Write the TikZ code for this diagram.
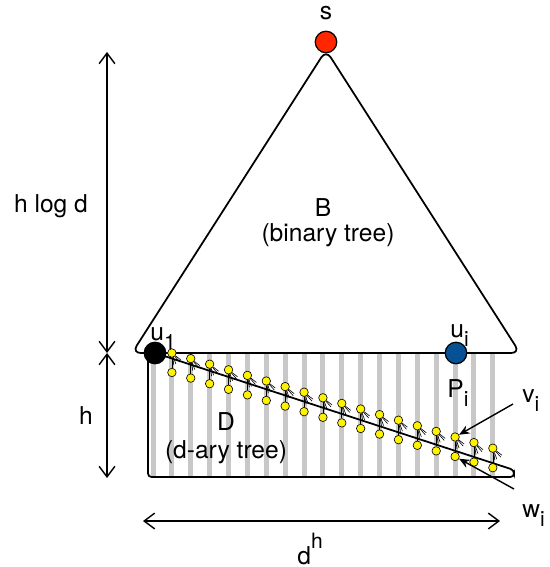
\documentclass[tikz,border=0pt]{standalone}
\usepackage{fontspec}
\setmainfont{TeX Gyre Heros}
\usetikzlibrary{arrows.meta}

\newcommand\lowidx[1]{\raisebox{-5.5pt}{\fontsize{12}{12}\selectfont #1}}
\newcommand\highidx[1]{\raisebox{9pt}{\fontsize{12}{12}\selectfont #1}}
\definecolor{rootred}{RGB}{255,38,0}
\definecolor{pathblue}{RGB}{6,80,148}
\definecolor{stripegray}{RGB}{200,200,200}

\begin{document}
\begin{tikzpicture}[
    x=0.02cm, y=-0.02cm,
    font=\fontsize{14}{16}\selectfont,
    outline/.style={line width=1pt},
    bigdot/.style={draw, circle, line width=0.7pt, minimum size=0.43cm, inner sep=0pt},
    kid/.style={draw, circle, fill=yellow, line width=0.35pt, minimum size=0.17cm, inner sep=0pt},
    fan/.style={line width=0.35pt},
    dim/.style={{Straight Barb[length=6pt,width=9pt]}-{Straight Barb[length=6pt,width=9pt]}, line width=0.8pt},
    pointer/.style={-{Stealth[length=6pt,width=5pt]}, line width=0.8pt},
    txt/.style={inner sep=0pt}
]
\useasboundingbox (0,0) rectangle (550,567);

% stripes of D
\foreach \k in {0,...,18}
  \fill[stripegray] ({153+18.88*\k-2.5},353) rectangle ({153+18.88*\k+2.5},477);

% B (binary tree)
\draw[outline, rounded corners=5pt] (326,50) -- (132,353) -- (520,353) -- cycle;
% D (d-ary tree)
\draw[outline, rounded corners=2pt] (155,353) -- (514,470) -- (514,477) -- (148,477) -- (148,353);

% path P_i: v_i above, w_i below, children fanning out
\foreach \k in {1,...,18} {
  \pgfmathsetmacro\xx{153+18.88*\k}
  \pgfmathsetmacro\yy{353+5.6*(\k-1)}
  \node[kid] (t\k) at (\xx,\yy) {};
  \node[kid] (b\k) at (\xx,\yy+19.5) {};
  \draw[fan] (t\k) -- (b\k);
  \foreach \dx/\dy in {9/7,8/9,4/11,2/12}
    \draw[fan] (t\k) -- ++(\dx,\dy);
}

\node[bigdot, fill=rootred] (s) at (326,42) {};
\node[bigdot, fill=black] (u1) at (155,353) {};
\node[bigdot, fill=pathblue] (ui) at (456,353) {};

% labels
\node[txt, anchor=base] (slbl) at (326,20) {s};
\node[txt, anchor=base] (blbl) at (323,217) {B};
\node[txt, anchor=base] (bname) at (328,241) {(binary tree)};
\node[txt, anchor=base] (dlbl) at (226,430) {D};
\node[txt, anchor=base] (dname) at (226,458) {(d-ary tree)};
\node[txt, anchor=base west] (u1lbl) at (150,340) {u\lowidx{1}};
\node[txt, anchor=base west] (uilbl) at (450,337) {u\lowidx{i}};
\node[txt, anchor=base west] (pilbl) at (447,397) {P\lowidx{i}};
\node[txt, anchor=base west] (vilbl) at (522,402) {v\lowidx{i}};
\node[txt, anchor=base west] (wilbl) at (522,517) {w\lowidx{i}};
\node[txt, anchor=base] (hlogd) at (51,213) {h log d};
\node[txt, anchor=base] (hlbl) at (86,424) {h};
\node[txt, anchor=base west] (dhlbl) at (297,564) {d\highidx{h}};

% pointers to v_i and w_i
\coordinate (vtail) at (513,404);
\coordinate (wtail) at (514,489);
\draw[pointer] (vtail) -- (t16);
\draw[pointer] (wtail) -- (b16);

% dimensions
\coordinate (htop) at (107,52);
\coordinate (hmid) at (107,353);
\coordinate (hbot) at (107,478);
\coordinate (wleft) at (143,521);
\coordinate (wright) at (500,521);
\draw[dim] (htop) -- (hmid);
\draw[dim] (hmid) -- (hbot);
\draw[dim] (wleft) -- (wright);
\end{tikzpicture}
\end{document}
